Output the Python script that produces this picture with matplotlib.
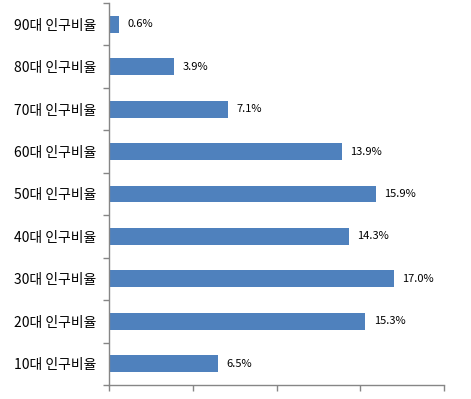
import matplotlib
matplotlib.use("Agg")
import matplotlib.pyplot as plt
from matplotlib.ticker import FixedLocator, NullFormatter

plt.rcParams['font.family'] = ['Noto Sans CJK KR', 'DejaVu Sans']

categories = ["10대 인구비율", "20대 인구비율", "30대 인구비율", "40대 인구비율",
              "50대 인구비율", "60대 인구비율", "70대 인구비율", "80대 인구비율", "90대 인구비율"]
values = [6.5, 15.3, 17.0, 14.3, 15.9, 13.9, 7.1, 3.9, 0.6]
x_ticks = [0, 5, 10, 15, 20]

fig = plt.figure(figsize=(4.71, 3.99), dpi=100)
ax = fig.add_axes([108.7/471, 1-385/399, (444.3-108.7)/471, (385-3)/399])

y = list(range(len(categories)))
ax.barh(y, values, height=0.4, color="#4F81BD")
for yi, v in zip(y, values):
    ax.annotate(f"{v:.1f}%", (v, yi), xytext=(6, 0), textcoords="offset points",
                va="center", ha="left", fontsize=8, color="black")

ax.set_xlim(0, 20)
ax.set_ylim(-0.5, len(categories) - 0.5)
ax.set_xticks(x_ticks)
ax.xaxis.set_major_formatter(NullFormatter())
ax.set_yticks(y)
ax.set_yticklabels(categories, fontsize=10)
ax.tick_params(axis='y', which='major', length=0, pad=9)
ax.yaxis.set_minor_locator(FixedLocator([i - 0.5 for i in range(len(categories) + 1)]))
ax.tick_params(axis='y', which='minor', length=4, color="#868686", width=1)
ax.tick_params(axis='x', length=4, color="#868686", width=1)

for s in ['top', 'right']:
    ax.spines[s].set_visible(False)
for s in ['left', 'bottom']:
    ax.spines[s].set_color("#868686")
    ax.spines[s].set_linewidth(1)

fig.savefig("out.png", dpi=100)
